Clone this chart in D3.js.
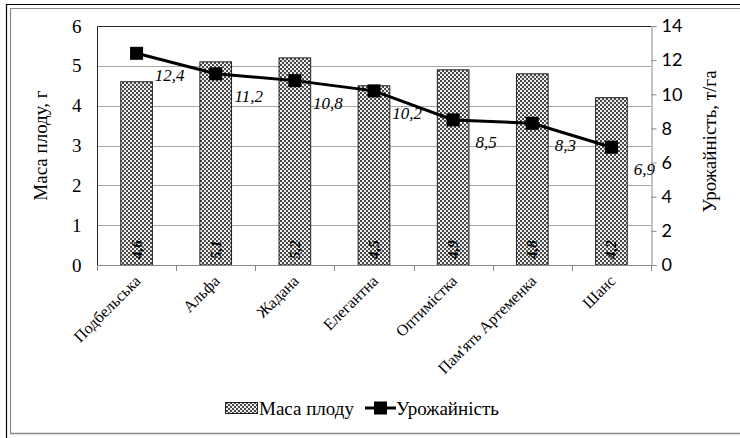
<!DOCTYPE html>
<html><head><meta charset="utf-8">
<script src="https://cdn.jsdelivr.net/npm/d3@7"></script>
<style>body{margin:0;background:#fff}svg{display:block}</style>
</head><body>
<script>
const categories = ["Подбельська","Альфа","Жадана","Елегантна","Оптимістка","Пам'ять Артеменка","Шанс"];
const massValues = [4.6, 5.1, 5.2, 4.5, 4.9, 4.8, 4.2];
const yieldValues = [12.4, 11.2, 10.8, 10.2, 8.5, 8.3, 6.9];
const leftTicks = [0,1,2,3,4,5,6];
const rightTicks = [0,2,4,6,8,10,12,14];
const seriesNames = ["Маса плоду", "Урожайність"];
const axisTitles = ["Маса плоду, г", "Урожайність, т/га"];

const W = 740, H = 438;
const M = {left: 97, right: 651, top: 26, bottom: 265};
const serif = "'Liberation Serif', 'Times New Roman', serif";
const sans = "Lato, 'Liberation Sans', sans-serif";

const svg = d3.select("body").append("svg").attr("width", W).attr("height", H);
const defs = svg.append("defs");
const pat = defs.append("pattern").attr("id","dots").attr("patternUnits","userSpaceOnUse")
  .attr("width",4).attr("height",4);
pat.append("rect").attr("width",4).attr("height",4).attr("fill","#eee");
pat.append("rect").attr("x",0).attr("y",0).attr("width",2).attr("height",2).attr("fill","#333");
pat.append("rect").attr("x",2).attr("y",2).attr("width",2).attr("height",2).attr("fill","#333");
pat.append("rect").attr("x",0.5).attr("y",0.5).attr("width",1).attr("height",1).attr("fill","#888");
pat.append("rect").attr("x",2.5).attr("y",2.5).attr("width",1).attr("height",1).attr("fill","#888");

// outer frame
svg.append("path").attr("d",`M6.5,${H+2} V4.5 H${W+2}`).attr("fill","none").attr("stroke","#000").attr("stroke-width",1.2);
svg.append("path").attr("d",`M10.5,433.5 V8.5 H${W+2}`).attr("fill","none").attr("stroke","#888").attr("stroke-width",1.2);
svg.append("line").attr("x1",10).attr("x2",W+2).attr("y1",433.5).attr("y2",433.5).attr("stroke","#888").attr("stroke-width",1.5);

const x = d3.scaleBand().domain(categories).range([M.left, M.right]).paddingInner(0.6).paddingOuter(0.3);
const xc = d3.scaleBand().domain(categories).range([M.left, M.right]);
const yL = d3.scaleLinear().domain([0,6]).range([M.bottom, M.top]);
const yR = d3.scaleLinear().domain([0,14]).range([M.bottom, M.top]);

// gridlines
svg.append("g").selectAll("line").data(leftTicks.filter(d=>d>0 && d<6)).join("line")
  .attr("x1",M.left).attr("x2",M.right).attr("y1",d=>Math.round(yL(d))+0.5).attr("y2",d=>Math.round(yL(d))+0.5)
  .attr("stroke","#a6a6a6").attr("stroke-width",1);

// plot border
svg.append("path").attr("d",`M${M.left+0.5},${M.bottom} V${M.top+0.5} H${M.right}`).attr("fill","none").attr("stroke","#222").attr("stroke-width",1);

// bars
svg.append("g").selectAll("rect").data(categories).join("rect")
  .attr("x",d=>x(d)).attr("width",x.bandwidth())
  .attr("y",(d,i)=>yL(massValues[i])).attr("height",(d,i)=>M.bottom-yL(massValues[i]))
  .attr("fill","url(#dots)").attr("stroke","#222").attr("stroke-width",1);

// axes
const gL = svg.append("g").attr("transform",`translate(${M.left+0.5},0)`)
  .call(d3.axisLeft(yL).tickValues(leftTicks).tickSize(0).tickPadding(16).tickFormat(d3.format("d")));
gL.attr("font-family",null).attr("font-size",null);
gL.select(".domain").remove();
gL.selectAll("text").style("font-family",serif).style("font-size","19px").attr("fill","#000");

const gR = svg.append("g").attr("transform",`translate(${M.right+0.5},0)`)
  .call(d3.axisRight(yR).tickValues(rightTicks).tickSize(5).tickPadding(5).tickFormat(d3.format("d")));
gR.attr("font-family",null).attr("font-size",null);
gR.select(".domain").attr("stroke","#888");
gR.selectAll(".tick line").attr("stroke","#888");
gR.selectAll("text").style("font-family",sans).style("font-size","18px").attr("fill","#000");

const gB = svg.append("g").attr("transform",`translate(0,${M.bottom+0.5})`)
  .call(d3.axisBottom(xc).tickSize(0).tickFormat(""));
gB.select(".domain").attr("stroke","#888").attr("d",`M${M.left},0H${M.right}`);
svg.append("g").selectAll("line").data(d3.range(categories.length+1)).join("line")
  .attr("x1",i=>Math.round(M.left + i*xc.step())+0.5).attr("x2",i=>Math.round(M.left + i*xc.step())+0.5)
  .attr("y1",M.bottom).attr("y2",M.bottom+6).attr("stroke","#888");

// category labels
svg.append("g").selectAll("text").data(categories).join("text")
  .attr("transform",d=>`translate(${xc(d)+xc.bandwidth()/2+5},${M.bottom+17}) rotate(-45)`)
  .attr("text-anchor","end").style("font-family",serif).style("font-size","16px").text(d=>d);

// bar value labels
svg.append("g").selectAll("text").data(categories).join("text")
  .attr("transform",d=>`translate(${x(d)+x.bandwidth()/2+5},${M.bottom-6}) rotate(-90)`)
  .style("font-family",serif).style("font-size","15px").style("font-weight","bold").style("font-style","italic")
  .text((d,i)=>String(massValues[i]).replace(".",","));

// line
const cx = d=>xc(d)+xc.bandwidth()/2;
const line = d3.line().x((d,i)=>cx(categories[i])).y(d=>yR(d));
svg.append("path").datum(yieldValues).attr("d",line).attr("fill","none").attr("stroke","#000").attr("stroke-width",3);
svg.append("g").selectAll("rect").data(yieldValues).join("rect")
  .attr("x",(d,i)=>cx(categories[i])-6.5).attr("y",d=>yR(d)-6.5).attr("width",13).attr("height",13).attr("fill","#000");
svg.append("g").selectAll("text").data(yieldValues).join("text")
  .attr("x",(d,i)=>cx(categories[i])+33).attr("y",d=>yR(d)+28)
  .attr("text-anchor","middle").style("font-family",serif).style("font-size","17px").style("font-style","italic")
  .text(d=>String(d).replace(".",","));

// axis titles
svg.append("text").attr("transform",`translate(47,${(M.top+M.bottom)/2}) rotate(-90)`)
  .attr("text-anchor","middle").style("font-family",serif).style("font-size","19px").text(axisTitles[0]);
svg.append("text").attr("transform",`translate(716,${(M.top+M.bottom)/2-4}) rotate(-90)`)
  .attr("text-anchor","middle").style("font-family",serif).style("font-size","19px").text(axisTitles[1]);

// legend
const lg = svg.append("g");
lg.append("rect").attr("x",225.5).attr("y",402.5).attr("width",32).attr("height",11).attr("fill","url(#dots)").attr("stroke","#222");
lg.append("text").attr("x",259).attr("y",415).style("font-family",serif).style("font-size","19px").text(seriesNames[0]);
lg.append("line").attr("x1",365).attr("x2",396).attr("y1",408).attr("y2",408).attr("stroke","#000").attr("stroke-width",3);
lg.append("rect").attr("x",374).attr("y",401.5).attr("width",13).attr("height",13).attr("fill","#000");
lg.append("text").attr("x",396).attr("y",415).style("font-family",serif).style("font-size","19px").text(seriesNames[1]);
</script>
</body></html>
